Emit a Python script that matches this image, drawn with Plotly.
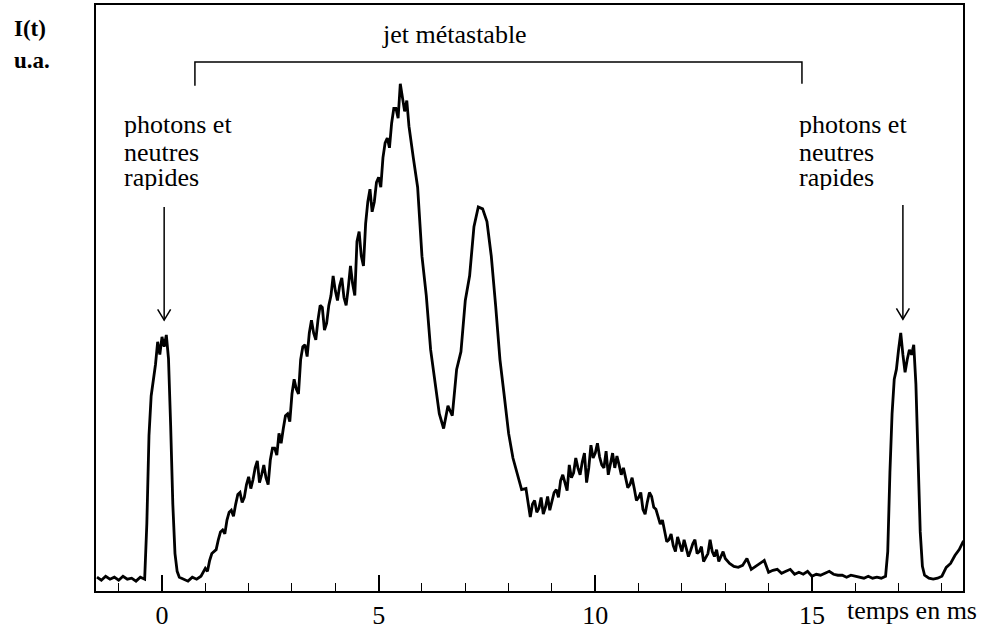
import plotly.graph_objects as go

# time in ms (main samples)
t_ms = [
    -1.5, -1.4, -1.3, -1.2, -1.1, -1.0, -0.9, -0.8, -0.7, -0.6, -0.5, -0.4,
    -0.35, -0.3, -0.25, -0.2, -0.15, -0.1, -0.05, 0.0, 0.05, 0.1, 0.15, 0.2, 0.25, 0.3, 0.35, 0.4,
    0.5, 0.6, 0.7, 0.8, 0.9, 1.0, 1.1, 1.2, 1.3, 1.4, 1.5, 1.6, 1.7, 1.8, 1.9,
    2.0, 2.1, 2.2, 2.3, 2.4, 2.5, 2.6, 2.7, 2.8, 2.9,
    3.0, 3.1, 3.2, 3.3, 3.4, 3.5, 3.6, 3.7, 3.8, 3.9,
    4.0, 4.1, 4.2, 4.3, 4.4, 4.5, 4.6, 4.7, 4.8, 4.9,
    5.0, 5.1, 5.2, 5.3, 5.4, 5.5, 5.55, 5.6, 5.65, 5.7, 5.8, 5.9,
    6.0, 6.1, 6.2, 6.3, 6.4, 6.5, 6.6, 6.7, 6.8, 6.9,
    7.0, 7.1, 7.2, 7.3, 7.4, 7.5, 7.6, 7.7, 7.8, 7.9,
    8.0, 8.1, 8.2, 8.3, 8.4, 8.5, 8.6, 8.7, 8.8, 8.9,
    9.0, 9.1, 9.2, 9.3, 9.4, 9.5, 9.6, 9.7, 9.8, 9.9,
    10.0, 10.1, 10.2, 10.3, 10.4, 10.5, 10.6, 10.7, 10.8, 10.9,
    11.0, 11.1, 11.2, 11.3, 11.4, 11.5, 11.6, 11.7, 11.8, 11.9,
    12.0, 12.1, 12.2, 12.3, 12.4, 12.5, 12.6, 12.7, 12.8, 12.9,
    13.0, 13.1, 13.2, 13.3, 13.4, 13.5, 13.6, 13.7, 13.8, 13.9,
    14.0, 14.1, 14.2, 14.3, 14.4, 14.5, 14.6, 14.7, 14.8, 14.9,
    15.0, 15.1, 15.2, 15.3, 15.4, 15.5, 15.6, 15.7, 15.8, 15.9,
    16.0, 16.1, 16.2, 16.3, 16.4, 16.5, 16.6, 16.7,
    16.75, 16.8, 16.85, 16.9, 16.95, 17.0, 17.05, 17.1, 17.15, 17.2, 17.25, 17.3, 17.35,
    17.4, 17.45, 17.5, 17.55, 17.6, 17.7, 17.8, 17.9, 18.0, 18.1, 18.2, 18.3, 18.4, 18.5,
]

# intensity, arbitrary units (main samples)
intensity = [
    14, 11, 15, 12, 14, 11, 15, 12, 13, 10, 14, 12,
    68, 158, 198, 213, 230, 253, 240, 258, 248, 260, 236, 168, 88, 38, 20, 14,
    12, 10, 14, 12, 15, 23, 31, 40, 52, 62, 72, 82, 88, 100, 95,
    116, 113, 132, 118, 115, 133, 145, 160, 165, 180,
    200, 205, 235, 250, 262, 262, 275, 288, 272, 300,
    305, 310, 298, 308, 312, 355, 340, 373, 408, 395,
    420, 440, 460, 475, 490, 515, 500, 487, 498, 472, 440, 410,
    340, 300, 245, 210, 180, 165, 188, 178, 225, 243,
    295, 320, 370, 390, 388, 375, 340, 290, 235, 198,
    160, 135, 118, 103, 104, 75, 92, 84, 78, 96,
    90, 103, 112, 110, 128, 120, 125, 131, 110, 148,
    140, 136, 125, 118, 140, 137, 118, 116, 108, 104,
    95, 83, 90, 96, 83, 68, 60, 52, 46, 55,
    40, 42, 41, 52, 40, 30, 38, 40, 42, 36,
    33, 28, 25, 24, 26, 33, 22, 25, 28, 31,
    19, 21, 22, 18, 20, 22, 17, 19, 17, 20,
    15, 17, 16, 18, 20, 17, 16, 16, 14, 16,
    15, 14, 13, 15, 13, 14, 13, 15,
    40, 120, 180, 215, 225, 245, 262, 240, 222, 235, 245, 240, 250,
    210, 130, 60, 25, 16, 13, 12, 13, 15, 24, 28, 36, 42, 51,
]

# extra in-between samples (noisy regions)
t_fine = [
    1.05, 1.15, 1.25, 1.35, 1.45, 1.55, 1.65, 1.75, 1.85, 1.95,
    2.05, 2.15, 2.25, 2.35, 2.45, 2.55, 2.65, 2.75, 2.85, 2.95,
    3.05, 3.15, 3.25, 3.35, 3.45, 3.55, 3.65, 3.75, 3.85, 3.95,
    4.05, 4.15, 4.25, 4.35, 4.45, 4.55, 4.65, 4.75, 4.85, 4.95,
    5.05, 5.15, 5.25, 5.35, 5.45,
    8.55, 8.65, 8.75, 8.85, 8.95, 9.05, 9.15, 9.25, 9.35, 9.45,
    9.55, 9.65, 9.75, 9.85, 9.95, 10.05, 10.15, 10.25, 10.35, 10.45,
    10.55, 10.65, 10.75, 10.85, 10.95, 11.05, 11.15, 11.25, 11.35, 11.45,
    11.55, 11.65, 11.75, 11.85, 11.95, 12.05, 12.15, 12.25, 12.35, 12.45,
    12.55, 12.65, 12.75, 12.85, 12.95,
]
intensity_fine = [
    20, 38, 42, 60, 58, 80, 76, 98, 90, 108,
    104, 125, 110, 128, 108, 145, 138, 150, 178, 172,
    215, 200, 248, 238, 275, 255, 290, 265, 290, 320,
    295, 318, 290, 330, 300, 365, 330, 395, 385, 415,
    410, 455, 450, 490, 480,
    88, 80, 95, 85, 82, 100, 95, 118, 102, 115,
    135, 118, 140, 125, 135, 150, 128, 142, 130, 125,
    128, 125, 105, 115, 92, 100, 78, 100, 85, 75,
    72, 50, 58, 40, 48, 52, 35, 48, 38, 45,
    34, 52, 35, 30, 40,
]

major_ticks = [0, 5, 10, 15]
major_labels = ["0", "5", "10", "15"]

SERIF = "Liberation Serif, Times New Roman, serif"

pairs = sorted(zip(t_ms + t_fine, intensity + intensity_fine))
x_all = [p[0] for p in pairs]
y_all = [p[1] for p in pairs]

fig = go.Figure()
fig.add_trace(go.Scatter(x=x_all, y=y_all, mode="lines",
                         line=dict(color="black", width=2.8), hoverinfo="skip"))

shapes = []
# bracket "jet métastable"
shapes.append(dict(type="path", xref="x", yref="y",
                   path="M 0.76,513 L 0.76,537 L 14.77,537 L 14.77,515",
                   line=dict(color="black", width=1.5)))
# arrows
for xa, ytop, ytip in [(0.05, 390, 275), (17.1, 392, 276)]:
    shapes.append(dict(type="line", xref="x", yref="y", x0=xa, x1=xa, y0=ytop, y1=ytip,
                       line=dict(color="black", width=1.5)))
    shapes.append(dict(type="path", xref="x", yref="y",
                       path=f"M {xa-0.15},{ytip+11} L {xa},{ytip} L {xa+0.15},{ytip+11}",
                       line=dict(color="black", width=1.5)))

ann = []
def txt(x, y, s, xref="x", yref="y", xanchor="left", size=26, bold=False, height=None):
    d = dict(x=x, y=y, xref=xref, yref=yref, text=(f"<b>{s}</b>" if bold else s),
             showarrow=False, xanchor=xanchor, yanchor="middle",
             font=dict(family=SERIF, size=size, color="black"))
    if height:
        d["height"] = height
    ann.append(d)

txt(-0.097, 0.96, "I(t)", xref="paper", yref="paper", size=23, bold=True)
txt(-0.097, 0.905, "u.a.", xref="paper", yref="paper", size=23, bold=True)
txt(6.76, 565, "jet métastable", xanchor="center")
for xl in (-0.92, 14.65):
    txt(xl, 474, "photons et", height=26)
    txt(xl, 446, "neutres", height=26)
    txt(xl, 420, "rapides", height=26)
txt(0.864, -0.034, "temps en ms", xref="paper", yref="paper")

fig.update_layout(
    width=986, height=633,
    margin=dict(l=96, r=23, t=3, b=35),
    paper_bgcolor="white", plot_bgcolor="white",
    showlegend=False,
    shapes=shapes, annotations=ann,
    font=dict(family=SERIF, size=26, color="black"),
    xaxis=dict(range=[-1.523, 18.487], showgrid=False, zeroline=False,
               showline=True, linecolor="black", linewidth=2, mirror=True,
               tickvals=major_ticks, ticktext=major_labels, ticks="inside",
               ticklen=16, tickwidth=1.5, tickcolor="black",
               tickfont=dict(family=SERIF, size=26, color="black"),
               minor=dict(dtick=1, tick0=0, ticks="inside", ticklen=8,
                          tickwidth=1.2, tickcolor="black", showgrid=False)),
    yaxis=dict(range=[0, 595], showgrid=False, zeroline=False,
               showline=True, linecolor="black", linewidth=2, mirror=True,
               showticklabels=False, ticks=""),
)

fig.write_html("out.html", config={"displayModeBar": False},
               post_script="document.body.style.margin='0';document.body.style.overflow='hidden';")
